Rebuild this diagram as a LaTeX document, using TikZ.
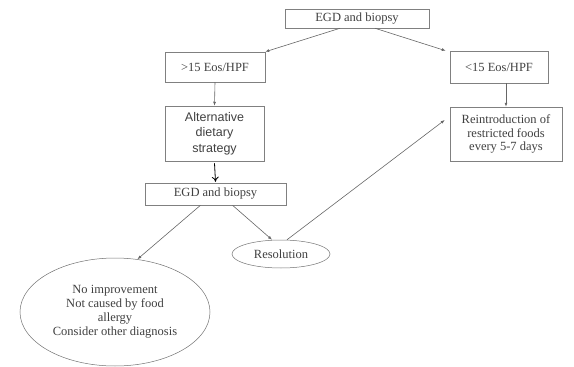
\documentclass[tikz,border=0pt]{standalone}
\usepackage{fontspec}
\setmainfont{Liberation Serif}
\newfontfamily\arialfont{Liberation Sans}
\usepackage{tikz}
\usetikzlibrary{positioning, arrows.meta, shapes.geometric, calc}

\begin{document}
\begin{tikzpicture}[
  x=1pt, y=-1pt,
  font=\fontsize{12.5}{14}\selectfont,
  box/.style={draw=black!50, line width=0.5pt, inner sep=2pt, align=center, text=black!75},
  oval/.style={draw=black!55, line width=0.5pt, ellipse, inner sep=0pt, align=center, text=black!75},
  arrow/.style={-{Latex[length=4pt, width=3pt]}, black!60, line width=0.6pt},
]
  \useasboundingbox (0,0) rectangle (574,367);

  \node[box, minimum width=144pt, minimum height=19pt] (egd)    at (357,18.5) {EGD and biopsy};
  \node[box, minimum width=100pt, minimum height=30pt] (high)   at (215,67)   {>15 Eos/HPF};
  \node[box, minimum width=98pt,  minimum height=32pt] (low)    at (499,67)   {<15 Eos/HPF};
  \node[box, minimum width=99pt,  minimum height=55pt,
        font=\arialfont\fontsize{12.5}{15.5}\selectfont\color{black}] (alt) at (214.5,133.5) {Alternative\\dietary\\strategy};
  \node[box, minimum width=112pt, minimum height=54pt,
        font=\fontsize{12.5}{13.5}\selectfont] (reintro)         at (506,134)  {Reintroduction of\\restricted foods\\every 5-7 days};
  \node[box, minimum width=141pt, minimum height=22pt] (egdtwo) at (215.5,194) {EGD and biopsy};
  \node[oval, minimum width=98pt, minimum height=28pt] (resol)  at (281,254)  {Resolution};
  \node[oval, minimum width=190pt, minimum height=108pt] (noimp) at (115,312) {No improvement\\Not caused by food\\allergy\\Consider other diagnosis};

  \draw[arrow] ([xshift=-17pt]egd.south) -- (high.north east);
  \draw[arrow] ([xshift=18pt]egd.south) -- ([xshift=-4pt]low.north west);
  \draw[arrow] (high.south) -- (alt.north);
  \draw[arrow] (low.south -| reintro.north) -- (reintro.north);
  \draw[-{To[length=5pt, width=7pt]}, black, line width=0.8pt] ([yshift=-2pt]alt.south) -- ([yshift=1pt]egdtwo.north);
  \draw[arrow] ([xshift=-15pt]egdtwo.south) -- (noimp.67);
  \draw[arrow] ([xshift=17pt]egdtwo.south) -- ([xshift=-9pt]resol.north);
  \draw[arrow] ([xshift=6pt]resol.north) -- ([xshift=-5pt, yshift=14pt]reintro.west);
\end{tikzpicture}
\end{document}
